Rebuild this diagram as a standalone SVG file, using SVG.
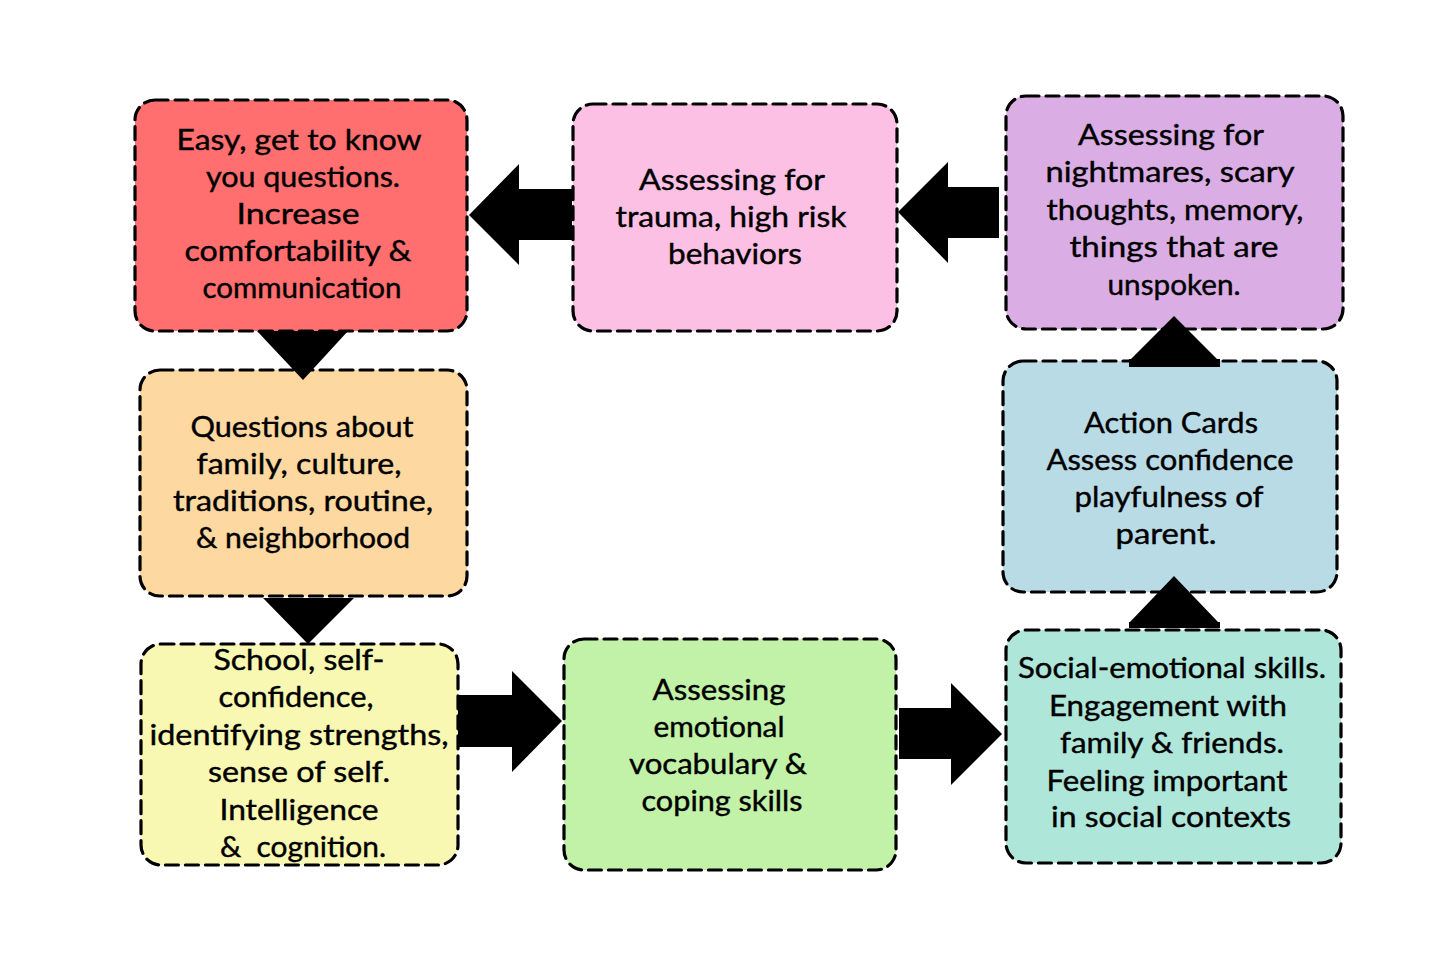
<svg xmlns="http://www.w3.org/2000/svg" width="1445" height="963" viewBox="0 0 1445 963">
<style>
.box{stroke:#000;stroke-width:3.2;stroke-dasharray:13 7;stroke-linecap:round}
.t{font-family:Lato,"Noto Sans",sans-serif;font-size:28px;fill:#000;text-anchor:middle;stroke:#000;stroke-width:0.4}
.arr{fill:#000}
</style>
<rect width="1445" height="963" fill="#fff"/>
<g id="n1"><rect class="box" x="135" y="100" width="332" height="231" rx="20" fill="#FF6F6F"/>
<text class="t"><tspan x="299" y="150" textLength="245" lengthAdjust="spacingAndGlyphs">Easy, get to know</tspan><tspan x="303" y="187" textLength="194" lengthAdjust="spacingAndGlyphs">you questions.</tspan><tspan x="298" y="224" textLength="123" lengthAdjust="spacingAndGlyphs">Increase</tspan><tspan x="298" y="261" textLength="227" lengthAdjust="spacingAndGlyphs">comfortability &amp;</tspan><tspan x="302" y="298" textLength="199" lengthAdjust="spacingAndGlyphs">communication</tspan></text></g>
<g id="n2"><rect class="box" x="573" y="104" width="324" height="227" rx="20" fill="#FDC0E5"/>
<text class="t"><tspan x="732" y="190" textLength="186" lengthAdjust="spacingAndGlyphs">Assessing for</tspan><tspan x="731" y="227" textLength="231" lengthAdjust="spacingAndGlyphs">trauma, high risk</tspan><tspan x="735" y="264" textLength="134" lengthAdjust="spacingAndGlyphs">behaviors</tspan></text></g>
<g id="n3"><rect class="box" x="1006" y="96" width="337" height="233" rx="20" fill="#DAAEE4"/>
<text class="t"><tspan x="1171" y="145" textLength="186" lengthAdjust="spacingAndGlyphs">Assessing for</tspan><tspan x="1170" y="182" textLength="249" lengthAdjust="spacingAndGlyphs">nightmares, scary</tspan><tspan x="1175" y="220" textLength="257" lengthAdjust="spacingAndGlyphs">thoughts, memory,</tspan><tspan x="1174" y="257" textLength="209" lengthAdjust="spacingAndGlyphs">things that are</tspan><tspan x="1174" y="295" textLength="133" lengthAdjust="spacingAndGlyphs">unspoken.</tspan></text></g>
<g id="n4"><rect class="box" x="140" y="370" width="327" height="226" rx="20" fill="#FDD8A0"/>
<text class="t"><tspan x="302" y="437" textLength="223" lengthAdjust="spacingAndGlyphs">Questions about</tspan><tspan x="299" y="474" textLength="205" lengthAdjust="spacingAndGlyphs">family, culture,</tspan><tspan x="303" y="511" textLength="260" lengthAdjust="spacingAndGlyphs">traditions, routine,</tspan><tspan x="303" y="548" textLength="214" lengthAdjust="spacingAndGlyphs">&amp; neighborhood</tspan></text></g>
<g id="n5"><rect class="box" x="1003" y="361" width="334" height="231" rx="20" fill="#B8DBE5"/>
<text class="t"><tspan x="1171" y="433" textLength="174" lengthAdjust="spacingAndGlyphs">Action Cards</tspan><tspan x="1170" y="470" textLength="247" lengthAdjust="spacingAndGlyphs">Assess confidence</tspan><tspan x="1169" y="507" textLength="189" lengthAdjust="spacingAndGlyphs">playfulness of</tspan><tspan x="1166" y="544" textLength="101" lengthAdjust="spacingAndGlyphs">parent.</tspan></text></g>
<g id="n6"><rect class="box" x="141" y="644" width="317" height="221" rx="20" fill="#F9F8B3"/>
<text class="t"><tspan x="299" y="670" textLength="171" lengthAdjust="spacingAndGlyphs">School, self-</tspan><tspan x="296" y="707" textLength="155" lengthAdjust="spacingAndGlyphs">confidence,</tspan><tspan x="299" y="745" textLength="299" lengthAdjust="spacingAndGlyphs">identifying strengths,</tspan><tspan x="299" y="782" textLength="182" lengthAdjust="spacingAndGlyphs">sense of self.</tspan><tspan x="299" y="820" textLength="159" lengthAdjust="spacingAndGlyphs">Intelligence</tspan><tspan x="303" y="857" textLength="166" lengthAdjust="spacingAndGlyphs">&amp;&#160; cognition.</tspan></text></g>
<g id="n7"><rect class="box" x="564" y="639" width="332" height="231" rx="20" fill="#C1F2A8"/>
<text class="t"><tspan x="719" y="700" textLength="133" lengthAdjust="spacingAndGlyphs">Assessing</tspan><tspan x="719" y="737" textLength="131" lengthAdjust="spacingAndGlyphs">emotional</tspan><tspan x="718" y="774" textLength="178" lengthAdjust="spacingAndGlyphs">vocabulary &amp;</tspan><tspan x="722" y="811" textLength="161" lengthAdjust="spacingAndGlyphs">coping skills</tspan></text></g>
<g id="n8"><rect class="box" x="1006" y="630" width="335" height="233" rx="20" fill="#AEE6DA"/>
<text class="t"><tspan x="1172" y="678" textLength="308" lengthAdjust="spacingAndGlyphs">Social-emotional skills.</tspan><tspan x="1168" y="716" textLength="238" lengthAdjust="spacingAndGlyphs">Engagement with</tspan><tspan x="1172" y="753" textLength="224" lengthAdjust="spacingAndGlyphs">family &amp; friends.</tspan><tspan x="1167" y="791" textLength="241" lengthAdjust="spacingAndGlyphs">Feeling important</tspan><tspan x="1171" y="827" textLength="240" lengthAdjust="spacingAndGlyphs">in social contexts</tspan></text></g>
<g id="connectors">
<polygon class="arr" points="572,189 519,189 519,164 469,215 519,265 519,240 572,240"/>
<polygon class="arr" points="999,187 948,187 948,162 898,212 948,263 948,238 999,238"/>
<polygon class="arr" points="257,331 348,331 303,380"/>
<polygon class="arr" points="263,598 354,598 308,644"/>
<polygon class="arr" points="458,695 512,695 512,671 562,721 512,772 512,747 458,747"/>
<polygon class="arr" points="899,708 951,708 951,683 1002,734 951,785 951,759 899,759"/>
<polygon class="arr" points="1174,316 1217,359 1220,359 1220,367 1129,367 1129,359 1131,359"/>
<polygon class="arr" points="1174,576 1218,622 1220,622 1220,628 1129,628 1129,622 1130,622"/>
</g>
</svg>
